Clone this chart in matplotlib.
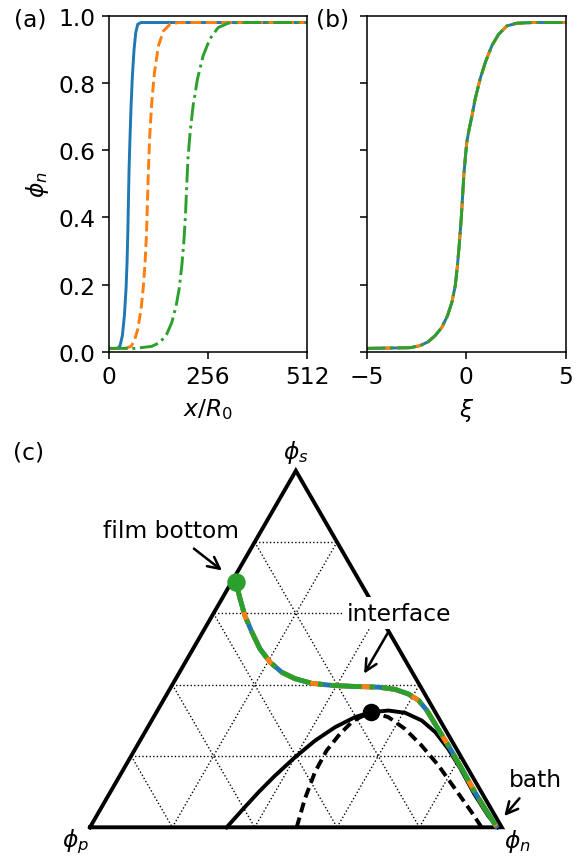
import numpy as np
import matplotlib
matplotlib.use("Agg")
import matplotlib.pyplot as plt

# (a) phi_n profiles vs x/R0 at three times
x_blue = [0, 22.4, 28.5, 34.5, 39.7, 44.0, 46.6, 48.4, 50.1, 51.8, 54.4, 57.0, 60.4, 64.8, 69.1, 74.3, 82.9, 512]
y_blue = [0.01, 0.010, 0.018, 0.048, 0.107, 0.187, 0.266, 0.345, 0.444, 0.544, 0.643, 0.732, 0.821, 0.901, 0.950, 0.975, 0.980, 0.980]
x_orange = [0, 41.4, 57.0, 65.6, 74.3, 82.9, 88.9, 93.2, 96.7, 99.3, 101.9, 105.3, 110.5, 117.4, 127.8, 140.7, 158.0, 179.6, 512]
y_orange = [0.01, 0.010, 0.016, 0.033, 0.067, 0.127, 0.196, 0.266, 0.345, 0.444, 0.544, 0.643, 0.742, 0.831, 0.911, 0.955, 0.975, 0.980, 0.980]
x_green = [0, 67.3, 110.5, 132.1, 149.4, 162.3, 173.5, 181.3, 188.2, 193.3, 197.6, 200.5, 204.0, 209.7, 217.4, 228.7, 243.3, 260.6, 282.2, 308.1, 335, 512]
y_green = [0.01, 0.010, 0.016, 0.028, 0.053, 0.087, 0.137, 0.187, 0.256, 0.325, 0.405, 0.484, 0.573, 0.653, 0.732, 0.812, 0.881, 0.931, 0.965, 0.978, 0.980, 0.980]

# (b) collapsed profile vs similarity variable xi
xi = [-5, -2.82, -2.32, -1.90, -1.56, -1.23, -0.94, -0.72, -0.55, -0.44, -0.34, -0.25, -0.18, -0.12,
      -0.05, 0.03, 0.15, 0.29, 0.45, 0.70, 0.96, 1.29, 1.63, 2.05, 2.55, 3.39, 5]
phin_xi = [0.010, 0.012, 0.018, 0.030, 0.048, 0.072, 0.107, 0.147, 0.196, 0.256, 0.325, 0.395, 0.464, 0.524,
           0.573, 0.623, 0.663, 0.702, 0.752, 0.812, 0.861, 0.911, 0.945, 0.970, 0.978, 0.980, 0.980]

# (c) ternary diagram: composition path, binodal, spinodal
path_phin = [0.010, 0.044, 0.079, 0.119, 0.162, 0.206, 0.248, 0.289, 0.336, 0.388, 0.446, 0.504, 0.547,
             0.586, 0.620, 0.654, 0.693, 0.756, 0.821, 0.886, 0.949, 0.985]
path_phis = [0.688, 0.641, 0.594, 0.548, 0.501, 0.463, 0.435, 0.417, 0.404, 0.398, 0.395, 0.393, 0.387,
             0.374, 0.356, 0.328, 0.290, 0.229, 0.164, 0.098, 0.037, 0.003]
binodal_phin = [0.332, 0.345, 0.360, 0.377, 0.400, 0.425, 0.455, 0.489, 0.521, 0.561, 0.605, 0.656,
                0.705, 0.760, 0.818, 0.885, 0.950, 0.990]
binodal_phis = [0.0, 0.047, 0.098, 0.145, 0.197, 0.243, 0.281, 0.309, 0.323, 0.3275, 0.321, 0.2995,
                0.267, 0.220, 0.164, 0.095, 0.033, 0.0]
spinodal_phin = [0.502, 0.482, 0.469, 0.467, 0.476, 0.490, 0.521, 0.570, 0.627, 0.691, 0.760, 0.833, 0.906, 0.951]
spinodal_phis = [0.0, 0.0795, 0.1545, 0.215, 0.262, 0.2995, 0.323, 0.309, 0.276, 0.229, 0.173, 0.1076, 0.042, 0.0]
crit_phin, crit_phis = 0.521, 0.323

plt.rcParams['font.size'] = 12

def tern(phin, phis):
    phin = np.asarray(phin, dtype=float)
    phis = np.asarray(phis, dtype=float)
    return phin + 0.5 * phis, np.sqrt(3) / 2 * phis

fig = plt.figure(figsize=(579 / 140, 857 / 140), dpi=140)

# panel (a)
axa = fig.add_axes([0.1883, 0.5884, 0.342, 0.392])
axa.plot(x_blue, y_blue, '-', color='C0')
axa.plot(x_orange, y_orange, '--', color='C1')
axa.plot(x_green, y_green, '-.', color='C2')
axa.set_xlim(0, 512)
axa.set_ylim(0, 1)
axa.set_xticks([0, 256, 512])
axa.set_yticks([0, 0.2, 0.4, 0.6, 0.8, 1.0])
axa.set_xlabel(r'$x/R_0$')
axa.set_ylabel(r'$\phi_n$')

# panel (b)
axb = fig.add_axes([0.6333, 0.5884, 0.3437, 0.392])
axb.plot(xi, phin_xi, '-', color='C0')
axb.plot(xi, phin_xi, '--', color='C1')
axb.plot(xi, phin_xi, '-.', color='C2')
axb.set_xlim(-5, 5)
axb.set_ylim(0, 1)
axb.set_xticks([-5, 0, 5])
axb.set_yticks([0, 0.2, 0.4, 0.6, 0.8, 1.0])
axb.set_yticklabels([])
axb.set_xlabel(r'$\xi$')

fig.text(0.052, 0.977, '(a)', ha='center', va='center')
fig.text(0.575, 0.977, '(b)', ha='center', va='center')
fig.text(0.050, 0.471, '(c)', ha='center', va='center')

# panel (c)
axc = fig.add_axes([0.0843, 0.00467, 0.8534, 0.4756])
axc.axis('off')
for f in [0.2, 0.4, 0.6, 0.8]:
    for a, b in [((0, f), (1 - f, f)), ((f, 0), (f, 1 - f)), ((0, 1 - f), (1 - f, 0))]:
        gx, gy = tern([a[0], b[0]], [a[1], b[1]])
        axc.plot(gx, gy, ':', color='k', lw=0.7, zorder=1)
tx, ty = tern([0, 1, 0, 0], [0, 0, 1, 0])
axc.plot(tx, ty, '-', color='k', lw=2, zorder=2, solid_joinstyle='miter')

bx, by = tern(binodal_phin, binodal_phis)
axc.plot(bx, by, '-', color='k', lw=2, zorder=2)
sx, sy = tern(spinodal_phin, spinodal_phis)
axc.plot(sx, sy, '--', color='k', lw=2, dashes=(2.6, 1.4), zorder=2)

px, py = tern(path_phin, path_phis)
axc.plot(px, py, '-', color='C0', lw=2.5, zorder=3)
axc.plot(px, py, '--', color='C1', lw=2.5, zorder=3)
axc.plot(px, py, '-.', color='C2', lw=2.5, zorder=3)

fx, fy = tern(path_phin[0], path_phis[0])
axc.plot(fx, fy, 'o', color='C2', ms=8.5, zorder=5)
cx, cy = tern(crit_phin, crit_phis)
axc.plot(cx, cy, 'o', color='k', ms=8, zorder=5)

axc.text(0.5, 0.912, r'$\phi_s$', ha='center', va='center')
axc.text(-0.036, -0.032, r'$\phi_p$', ha='center', va='center')
axc.text(1.037, -0.032, r'$\phi_n$', ha='center', va='center')

arr = dict(arrowstyle='->', color='k', lw=1.3, mutation_scale=15)
axc.annotate('film bottom', xy=(0.328, 0.618), xytext=(0.197, 0.72),
             ha='center', va='center', arrowprops=arr, zorder=6)
axc.annotate('interface', xy=(0.661, 0.365), xytext=(0.751, 0.52),
             ha='center', va='center', arrowprops=arr, zorder=6,
             bbox=dict(boxstyle='square,pad=0.2', fc='white', ec='none'))
axc.annotate('bath', xy=(1.0, 0.02), xytext=(1.081, 0.115),
             ha='center', va='center', arrowprops=arr, zorder=6,
             annotation_clip=False)

axc.set_xlim(-0.1, 1.1)
axc.set_ylim(-0.06, 0.93)

fig.savefig('out.png', dpi=140)
